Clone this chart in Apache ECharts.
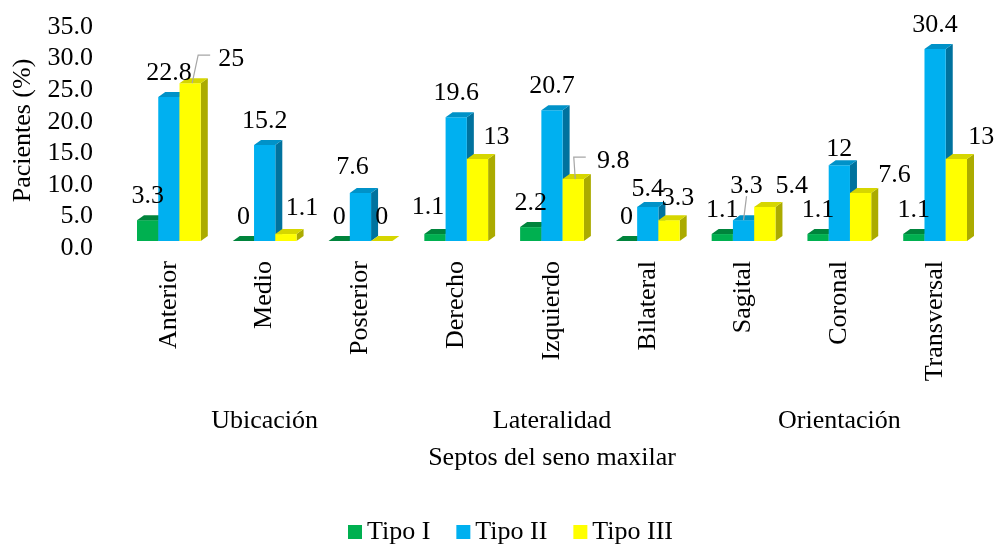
<!DOCTYPE html>
<html>
<head>
<meta charset="utf-8">
<script src="https://cdn.jsdelivr.net/npm/echarts@6/dist/echarts.min.js"></script>
<style>
  html, body { margin: 0; padding: 0; background: #fff; }
  #chart { width: 995px; height: 545px; }
</style>
</head>
<body>
<div id="chart"></div>
<script>
// data
var categories = ['Anterior', 'Medio', 'Posterior', 'Derecho', 'Izquierdo', 'Bilateral', 'Sagital', 'Coronal', 'Transversal'];
var groups = ['Ubicación', 'Lateralidad', 'Orientación'];
var seriesNames = ['Tipo I', 'Tipo II', 'Tipo III'];
var tipoI = [3.3, 0, 0, 1.1, 2.2, 0, 1.1, 1.1, 1.1];
var tipoII = [22.8, 15.2, 7.6, 19.6, 20.7, 5.4, 3.3, 12, 30.4];
var tipoIII = [25, 1.1, 0, 13, 9.8, 3.3, 5.4, 7.6, 13];
var allValues = [tipoI, tipoII, tipoIII];

// looks
var FONT = '"Liberation Serif", "Times New Roman", serif';
var faces = [
    { front: '#00B050', top: '#00843C', side: '#006B30' },
    { front: '#00B0F0', top: '#0092C8', side: '#00729E' },
    { front: '#FFFF00', top: '#D6D600', side: '#ABAB00' }
];
var DX = 7, DY = 5;          // fake depth of the bars
var BAR_FRAC = 0.222;        // bar width as part of a category band

// where Excel had moved a data label: [dx, dy of label centre from bar top], leader line kind
var labelNudge = {
    '0-3': [-7, -27],
    '1-2': [-8, -26],
    '1-5': [0, -18],
    '1-6': [3, -34, 'straight'],
    '1-7': [0, -16],
    '2-0': [41, -24, 'elbow'],
    '2-1': [16, -26],
    '2-3': [19, -22],
    '2-4': [40, -18, 'elbow'],
    '2-5': [9, -22],
    '2-6': [27, -21],
    '2-7': [34, -18],
    '2-8': [25, -22]
};

function barRender(s) {
    return function (params, api) {
        var i = api.value(0), v = api.value(1);
        var base = api.coord([i, 0]);
        var top = api.coord([i, v]);
        var w = api.size([1, 0])[0] * BAR_FRAC;
        var x0 = base[0] + (s - 1) * w - w / 2;
        var yt = top[1], yb = base[1];
        var f = faces[s];
        return {
            type: 'group',
            children: [
                { type: 'polygon', shape: { points: [[x0 + w, yt], [x0 + w + DX, yt - DY], [x0 + w + DX, yb - DY], [x0 + w, yb]] }, style: { fill: f.side } },
                { type: 'rect', shape: { x: x0, y: yt, width: w, height: yb - yt }, style: { fill: f.front } },
                { type: 'polygon', shape: { points: [[x0, yt], [x0 + w, yt], [x0 + w + DX, yt - DY], [x0 + DX, yt - DY]] }, style: { fill: f.top } }
            ]
        };
    };
}

function labelRender(params, api) {
    var i = api.value(0), v = api.value(1), s = api.value(2);
    var base = api.coord([i, 0]);
    var top = api.coord([i, v]);
    var w = api.size([1, 0])[0] * BAR_FRAC;
    var cx = base[0] + (s - 1) * w;
    var n = labelNudge[s + '-' + i] || [0, -24];
    var tx = cx + n[0], ty = top[1] + n[1];
    var txt = String(v);
    var children = [{
        type: 'text',
        style: { text: txt, x: tx, y: ty, align: 'center', verticalAlign: 'middle', fontSize: 26, fontFamily: FONT, fill: '#000' }
    }];
    if (n[2] === 'elbow') {
        var left = tx - txt.length * 6.5;
        children.push({
            type: 'polyline',
            shape: { points: [[cx + 2, top[1]], [left - 20, ty - 4], [left - 8, ty - 4]] },
            style: { stroke: '#A6A6A6', lineWidth: 1.2, fill: null }
        });
    } else if (n[2] === 'straight') {
        children.push({
            type: 'line',
            shape: { x1: cx, y1: top[1], x2: tx, y2: ty + 10 },
            style: { stroke: '#A6A6A6', lineWidth: 1.2 }
        });
    }
    return { type: 'group', children: children };
}

var series = [];
allValues.forEach(function (vals, s) {
    series.push({
        name: seriesNames[s],
        type: 'custom',
        renderItem: barRender(s),
        itemStyle: { color: faces[s].front },
        encode: { x: 0, y: 1 },
        data: vals.map(function (v, i) { return [i, v]; }),
        animation: false
    });
});
var labelData = [];
allValues.forEach(function (vals, s) {
    vals.forEach(function (v, i) { labelData.push([i, v, s]); });
});
series.push({
    name: 'labels',
    type: 'custom',
    renderItem: labelRender,
    encode: { x: 0, y: 1 },
    data: labelData,
    z: 10,
    silent: true,
    animation: false
});

var chart = echarts.init(document.getElementById('chart'));
var option = {
    backgroundColor: '#fff',
    textStyle: { fontFamily: FONT, color: '#000' },
    grid: { left: 121, right: 12, top: 20, bottom: 304 },
    legend: {
        data: seriesNames,
        left: 343,
        top: 514,
        icon: 'rect',
        itemWidth: 14,
        itemHeight: 14,
        itemGap: 26,
        textStyle: { fontSize: 26, fontFamily: FONT, color: '#000' }
    },
    xAxis: [{
        type: 'category',
        data: categories,
        axisLine: { show: false },
        axisTick: { show: false },
        axisLabel: { rotate: 90, margin: 20, interval: 0, fontSize: 26, fontFamily: FONT, color: '#000' }
    }, {
        type: 'category',
        data: groups,
        position: 'bottom',
        offset: 160,
        axisLine: { show: false },
        axisTick: { show: false },
        axisLabel: { margin: 7, interval: 0, fontSize: 26, fontFamily: FONT, color: '#000' },
        name: 'Septos del seno maxilar',
        nameLocation: 'middle',
        nameGap: 44,
        nameTextStyle: { fontSize: 26, fontFamily: FONT, color: '#000' }
    }],
    yAxis: {
        type: 'value',
        min: 0,
        max: 35,
        interval: 5,
        name: 'Pacientes (%)',
        nameLocation: 'middle',
        nameGap: 82,
        nameTextStyle: { fontSize: 26, fontFamily: FONT, color: '#000' },
        axisLine: { show: false },
        axisTick: { show: false },
        splitLine: { show: false },
        axisLabel: {
            margin: 28,
            verticalAlign: 'top',
            lineHeight: 14,
            fontSize: 26,
            fontFamily: FONT,
            color: '#000',
            formatter: function (v) { return v.toFixed(1); }
        }
    },
    series: series
};
chart.setOption(option);
</script>
</body>
</html>
